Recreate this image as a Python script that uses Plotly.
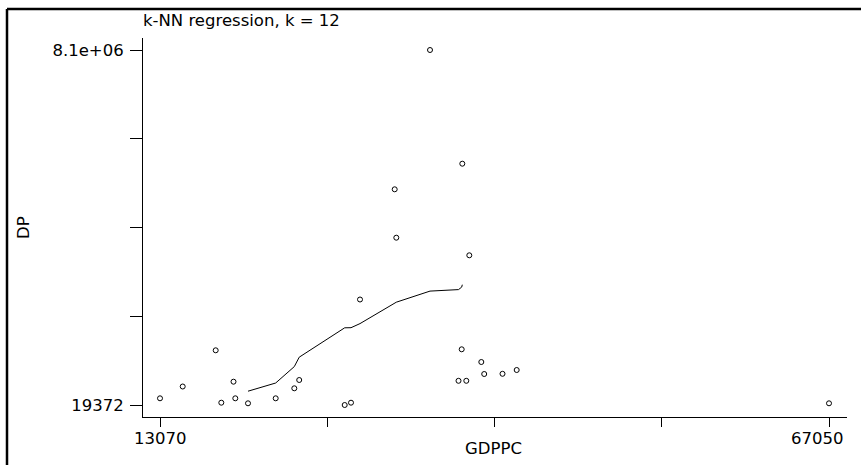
import plotly.graph_objects as go

# ---- data ----
gdppc = [13070, 14902, 17564, 18016, 19000, 19146, 20170, 22405, 23906, 24302,
         27973, 28481, 29207, 32007, 32136, 34855, 37155, 37413, 37462, 37784,
         38027, 38995, 39229, 40705, 41851, 67050]
dp = [171880, 440475, 1264470, 71725, 549734, 171880, 58068, 171880, 399502, 588429,
      19372, 71725, 2420794, 4929200, 3827505, 8100000, 570220, 1287232, 5511915, 570220,
      3426889, 998151, 725003, 729556, 816053, 58068]

# k-NN (k = 12) fitted curve
knn_x = [20170, 22405, 23906, 24302, 27973, 28481, 29207, 32007, 32136, 34855,
         37155, 37413, 37462]
knn_y = [333492, 520143, 893444, 1107410, 1776621, 1778898, 1872223, 2325193, 2359336,
         2611998, 2646141, 2703047, 2757677]

x_tickvals = [13070, 26565, 40060, 53555, 67050]
x_ticktext = ["13070", "", "", "", "67050"]
y_tickvals = [19372, 2039529, 4059686, 6079843, 8100000]
y_ticktext = ["19372", "", "", "", "8.1e+06"]

title_text = "k-NN regression, k = 12"
x_title = "GDPPC"
y_title = "DP"

FONT = "DejaVu Sans, Liberation Sans, sans-serif"
FS = 16.5

# plot area in pixels
L, R, T, B = 143, 847, 38, 417
W, H = 861, 465


def px_x(p):
    return (p - L) / (R - L)


def px_y(p):
    return (B - p) / (B - T)


fig = go.Figure()
fig.add_trace(go.Scatter(
    x=gdppc, y=dp, mode="markers",
    marker=dict(symbol="circle-open", size=5, color="black", line=dict(width=1, color="black")),
    showlegend=False, hoverinfo="x+y"))
fig.add_trace(go.Scatter(
    x=knn_x, y=knn_y, mode="lines",
    line=dict(color="black", width=1),
    showlegend=False))

# x tick labels as text placed under the ticks (the last one sits a bit left of its tick)
xlab_annots = [
    dict(text=x_ticktext[0], xref="x", yref="paper", x=x_tickvals[0], y=px_y(438),
         xanchor="center", yanchor="middle", showarrow=False),
    dict(text=x_ticktext[-1], xref="paper", yref="paper", x=px_x(846), y=px_y(438),
         xanchor="right", yanchor="middle", showarrow=False),
]

fig.update_layout(
    width=W, height=H,
    margin=dict(l=L, r=W - R, t=T, b=H - B, pad=0),
    paper_bgcolor="white", plot_bgcolor="white",
    font=dict(family=FONT, size=FS, color="black"),
    title=dict(text=title_text, x=0, xref="paper", xanchor="left",
               y=1 - 20 / H, yref="container", yanchor="middle",
               font=dict(family=FONT, size=FS, color="black")),
    xaxis=dict(range=[11698, 68502], showgrid=False, zeroline=False,
               showline=True, linecolor="black", linewidth=1, mirror=False,
               ticks="outside", ticklen=9, tickwidth=1, tickcolor="black",
               tickvals=x_tickvals, ticktext=["", "", "", "", ""]),
    yaxis=dict(range=[-253776, 8373136], showgrid=False, zeroline=False,
               showline=True, linecolor="black", linewidth=1, mirror=False,
               ticks="outside", ticklen=12, tickwidth=1, tickcolor="black",
               tickvals=y_tickvals, ticktext=y_ticktext,
               ticklabelstandoff=3,
               tickfont=dict(family=FONT, size=FS, color="black")),
    annotations=xlab_annots + [
        dict(text=x_title, xref="paper", yref="paper", x=px_x(493), y=px_y(448),
             xanchor="center", yanchor="middle", showarrow=False,
             font=dict(family=FONT, size=FS, color="black")),
        dict(text=y_title, xref="paper", yref="paper", x=px_x(23), y=px_y(228),
             xanchor="center", yanchor="middle", showarrow=False, textangle=-90,
             font=dict(family=FONT, size=FS, color="black")),
    ],
    shapes=[
        dict(type="line", xref="paper", yref="paper", x0=px_x(7), x1=px_x(W),
             y0=px_y(9), y1=px_y(9), line=dict(color="black", width=2.5)),
        dict(type="line", xref="paper", yref="paper", x0=px_x(7), x1=px_x(7),
             y0=px_y(9), y1=px_y(H), line=dict(color="black", width=2.5)),
    ],
)

fig.write_html(
    "out.html",
    config={"displayModeBar": False},
    post_script=("document.body.style.margin='0';"
                 "document.body.style.overflow='hidden';"
                 "document.documentElement.style.overflow='hidden';"))
